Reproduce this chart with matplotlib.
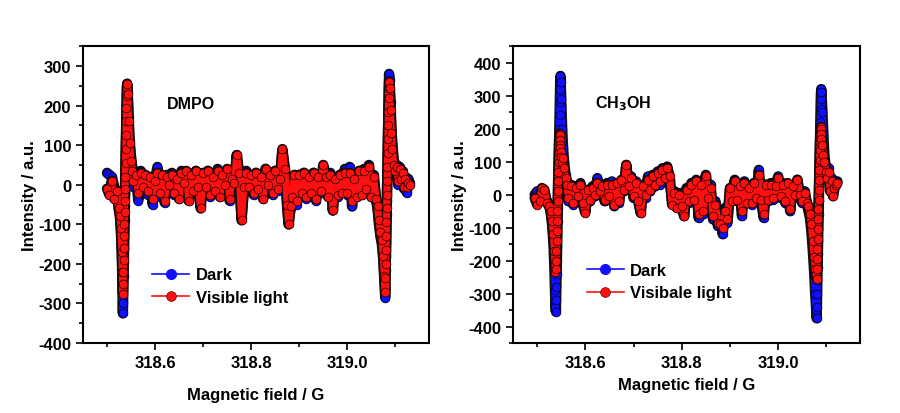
import matplotlib.pyplot as plt
import matplotlib.patheffects as pe
from matplotlib.ticker import MultipleLocator

plt.rcParams["font.family"] = ["Liberation Sans", "DejaVu Sans"]
plt.rcParams["font.weight"] = "bold"
plt.rcParams["mathtext.default"] = "bf"
plt.rcParams["axes.unicode_minus"] = False

# ---- DMPO panel (field in G, intensity in a.u.) ----
dmpo_field = [
    318.500, 318.505, 318.510, 318.515, 318.520, 318.524, 318.527, 318.529, 318.531, 318.532,
    318.533, 318.5335, 318.534, 318.5345, 318.535, 318.5355, 318.536, 318.5365, 318.537, 318.5375,
    318.538, 318.5385, 318.539, 318.5395, 318.540, 318.5405, 318.541, 318.5415, 318.542, 318.543,
    318.545, 318.547, 318.550, 318.553,
    318.555, 318.560, 318.565, 318.570, 318.575, 318.580, 318.585, 318.590, 318.595, 318.600,
    318.605, 318.610, 318.615, 318.620, 318.625, 318.630, 318.635, 318.640, 318.645, 318.650,
    318.655, 318.660, 318.665, 318.670, 318.675, 318.680, 318.685, 318.690, 318.695, 318.700,
    318.705, 318.710, 318.715, 318.720, 318.725, 318.730, 318.735, 318.740, 318.745, 318.750,
    318.755, 318.760, 318.765, 318.770, 318.775, 318.780, 318.785, 318.790, 318.795, 318.800,
    318.805, 318.810, 318.815, 318.820, 318.825, 318.830, 318.835, 318.840, 318.845, 318.850,
    318.855, 318.860, 318.865, 318.870, 318.875,
    318.878, 318.882, 318.885,
    318.890, 318.895, 318.900, 318.905, 318.910, 318.915, 318.920, 318.925, 318.930, 318.935,
    318.940, 318.945, 318.950, 318.955, 318.960, 318.965, 318.970, 318.975, 318.980, 318.985,
    318.990, 318.995, 319.000, 319.005, 319.010, 319.015, 319.020, 319.025, 319.030, 319.035,
    319.040, 319.045, 319.050, 319.055, 319.060,
    319.063, 319.066, 319.069, 319.072, 319.075, 319.077, 319.079, 319.0795, 319.080, 319.0805,
    319.081, 319.0815, 319.082, 319.0825, 319.083, 319.0835, 319.084, 319.0845, 319.085, 319.0855,
    319.086, 319.0865, 319.087, 319.088, 319.090, 319.092, 319.094, 319.097, 319.100, 319.103,
    319.106, 319.109, 319.112, 319.115, 319.118, 319.121, 319.124, 319.127, 319.130,
]
dmpo_dark = [
    30, 25, 20, -5, -20, -45, -80, -120, -190, -250,
    -325, -300, -265, -230, -195, -160, -125, -90, -55, -20,
    15, 50, 85, 120, 155, 190, 220, 245, 255, 235,
    170, 110, 70, 40,
    -5, 30, -40, 35, -10, 20, -25, 15, -50, 15,
    45, -30, 20, -45, 25, -5, 30, -25, 20, -35,
    35, -5, 30, -40, 20, -20, 35, -10, -55, 25,
    -15, 35, -30, 15, -20, 40, -30, 20, -5, 35,
    -40, 25, -5, 75, 20, -85, -10, 35, -10, 20,
    -25, 30, -15, 25, -35, 40, -5, 30, -25, 35,
    -15, 20, 85, 40, -60,
    -100, -60, -40,
    20, -50, 25, -20, 30, -35, 25, -25, 30, -40,
    25, -20, 45, 10, -30, 30, -65, 15, -30, 25,
    -20, 40, -25, 45, -55, 20, -30, 35, -25, 40,
    -5, 50, -30, 25, -40,
    -60, -100, -130, -150, -190, -240, -285, -250, -215, -180,
    -145, -110, -75, -40, -5, 30, 65, 100, 140, 180,
    220, 255, 280, 265, 210, 140, 100, 60, 40, 50,
    0, 45, 20, 35, -10, 20, -20, 15, 5,
]
dmpo_light = [
    -10, -25, 10, -35, -15, -60, -80, -110, -170, -220,
    -275, -250, -220, -190, -160, -130, -100, -70, -40, -10,
    20, 55, 90, 125, 160, 195, 225, 245, 255, 230,
    160, 105, 60, 35,
    10, 25, -20, 30, -5, 25, -15, 20, -35, 10,
    30, -20, 25, -40, 20, 0, 25, -20, 15, -35,
    30, 5, 35, -40, 25, -15, 35, -5, -60, 30,
    -5, 35, -25, 20, -15, 35, -30, 25, 0, 40,
    -35, 15, 5, 75, 30, -90, -5, 30, -5, 25,
    -20, 30, -10, 20, -35, 40, 0, 25, -20, 35,
    -10, 15, 90, 40, -50,
    -100, -55, -30,
    25, -40, 25, -20, 30, -30, 20, -20, 30, -35,
    20, -15, 50, 20, -30, 25, -65, 15, -25, 25,
    -20, 30, -20, 30, -40, 15, -30, 35, -25, 35,
    -10, 45, -30, 20, -35,
    -55, -90, -120, -140, -180, -230, -270, -235, -200, -165,
    -130, -95, -60, -25, 10, 45, 80, 115, 150, 185,
    220, 245, 260, 245, 190, 130, 90, 50, 35, 45,
    10, 40, 15, 30, -5, 15, -5, 5, 0,
]

# ---- CH3OH panel ----
meoh_field = [
    318.495, 318.500, 318.505, 318.510, 318.515, 318.520, 318.525, 318.528, 318.531, 318.534,
    318.536, 318.537, 318.538, 318.539, 318.5395, 318.540, 318.5405, 318.541, 318.5415, 318.542,
    318.5425, 318.543, 318.5435, 318.544, 318.5445, 318.545, 318.5455, 318.546, 318.5465, 318.547,
    318.5475, 318.548, 318.5485, 318.549, 318.550, 318.552, 318.554, 318.556, 318.559, 318.562,
    318.565, 318.570, 318.575, 318.580, 318.585, 318.590, 318.595, 318.600, 318.605, 318.610,
    318.615, 318.620, 318.625, 318.630, 318.635, 318.640, 318.645, 318.650, 318.655, 318.660,
    318.665, 318.670, 318.675, 318.680, 318.685, 318.690, 318.695, 318.700, 318.705, 318.710,
    318.715, 318.720, 318.725, 318.730, 318.735, 318.740, 318.745, 318.750, 318.755, 318.760,
    318.765, 318.770, 318.775, 318.780, 318.785, 318.790, 318.795, 318.800, 318.805, 318.810,
    318.815, 318.820, 318.825, 318.830, 318.835, 318.840, 318.845, 318.850, 318.855, 318.860,
    318.865, 318.870, 318.875, 318.880, 318.885, 318.890, 318.895, 318.900, 318.905, 318.910,
    318.915, 318.920, 318.925, 318.930, 318.935, 318.940, 318.945, 318.950, 318.955, 318.960,
    318.965, 318.970, 318.975, 318.980, 318.985, 318.990, 318.995, 319.000, 319.005, 319.010,
    319.015, 319.020, 319.025, 319.030, 319.035, 319.040, 319.045, 319.050, 319.055, 319.060,
    319.063, 319.066, 319.069, 319.072, 319.075, 319.077, 319.079, 319.080, 319.0805, 319.081,
    319.0815, 319.082, 319.0825, 319.083, 319.0835, 319.084, 319.0845, 319.085, 319.0855, 319.086,
    319.0865, 319.087, 319.0875, 319.088, 319.0885, 319.089, 319.0895, 319.090, 319.092, 319.094,
    319.096, 319.099, 319.102, 319.105, 319.108, 319.111, 319.114, 319.117, 319.120, 319.123,
]
meoh_dark = [
    0, 10, -10, 15, 10, -20, -30, -50, -90, -150,
    -230, -290, -340, -355, -320, -280, -240, -200, -160, -120,
    -80, -40, 0, 40, 80, 120, 160, 200, 240, 280,
    320, 350, 360, 340, 290, 200, 140, 100, 60, 40,
    -20, 30, -30, 25, -10, 35, -30, -50, 10, -20,
    25, -5, 50, 5, 30, -20, 35, -10, 40, -35,
    30, -25, 40, 10, 90, 20, 55, -10, 40, -20,
    -55, 30, -10, 55, 10, 60, 25, 70, 30, 80,
    40, 85, 45, -20, 10, -40, 5, -30, -65, 20,
    -25, 35, -20, 45, -70, 35, -60, 60, -10, 30,
    -75, -20, -95, -70, -120, -40, -85, 10, -15, 45,
    -20, 30, -65, 40, -20, 25, -30, 35, -10, 75,
    -20, -70, 30, -20, 35, -15, 25, 55, -10, 35,
    -25, 30, -50, 20, -5, 45, -5, -25, 10, -30,
    -50, -70, -110, -170, -240, -300, -350, -375, -340, -300,
    -260, -220, -180, -140, -100, -60, -20, 20, 60, 100,
    140, 180, 220, 260, 290, 310, 320, 310, 250, 180,
    120, 80, 60, 80, 20, 50, 10, 40, 30, 40,
]
meoh_light = [
    -10, -30, -20, 20, 15, -25, -35, -50, -80, -120,
    -170, -210, -235, -225, -200, -170, -140, -110, -80, -50,
    -20, 10, 40, 70, 100, 130, 155, 175, 185, 180,
    165, 150, 140, 130, 115, 100, 110, 80, 50, 30,
    -10, 25, -25, 20, -5, 30, -25, -55, 15, -15,
    20, 0, 35, 10, 25, -15, 30, -5, 30, -30,
    35, -20, 45, 15, 90, 25, 50, -5, 35, -20,
    -55, 25, 0, 45, 15, 55, 30, 65, 40, 75,
    50, 80, 55, -30, 5, -40, 0, -35, -65, 15,
    -20, 30, -15, 40, -60, 30, -50, 55, -10, 20,
    -65, -30, -85, -90, -100, -50, -75, 20, -20, 40,
    -15, 25, -50, 35, -25, 20, -25, 35, -10, 60,
    -15, -60, 30, -15, 30, -10, 25, 50, -5, 30,
    -20, 35, -45, 25, 0, 45, 0, -20, 5, -25,
    -35, -60, -90, -140, -190, -225, -245, -255, -225, -195,
    -165, -135, -105, -75, -45, -15, 15, 45, 75, 105,
    135, 160, 180, 195, 205, 200, 185, 170, 150, 120,
    100, 70, 50, 70, 10, 40, -5, 20, 30, 35,
]

panels = [
    (dmpo_field, dmpo_dark, dmpo_light, "DMPO", "Visible light", (-400, 350), (318.625, 205), (0.2, 0.255)),
    (meoh_field, meoh_dark, meoh_light, r"CH$_3$OH", "Visibale light", (-450, 450), (318.621, 278), (0.213, 0.27)),
]

fig = plt.figure(figsize=(9, 4.14), dpi=100)
ax_left = fig.add_axes([0.0922, 0.169, 0.3844, 0.717])
ax_right = fig.add_axes([0.570, 0.169, 0.3856, 0.717])

blue = "#1010ff"
red = "#ff1010"
outline = [pe.Stroke(linewidth=7.5, foreground="#101010"), pe.Normal()]

for ax, (field, dark, light, tag, light_label, ylim, tagpos, legpos) in zip([ax_left, ax_right], panels):
    # thick outlined trace + circle markers, mimicking the dense-marker look
    ax.plot(field, dark, "-", color=blue, lw=5, path_effects=outline,
            solid_joinstyle="round", solid_capstyle="round")
    ax.plot(field, dark, "o", color=blue, mec="#000020", mew=0.5, ms=6.3)
    ax.plot(field, light, "-", color=red, lw=5, path_effects=outline,
            solid_joinstyle="round", solid_capstyle="round")
    ax.plot(field, light, "o", color=red, mec="#200000", mew=0.5, ms=6.3)

    # legend proxies (thin line with a single marker)
    ax.plot([], [], "-o", color=blue, lw=1.2, ms=7, label="Dark")
    ax.plot([], [], "-o", color=red, lw=1.2, ms=7, mec="#600000", mew=0.5, label=light_label)

    ax.set_xlim(318.45, 319.17)
    ax.set_ylim(*ylim)
    ax.xaxis.set_major_locator(MultipleLocator(0.2))
    ax.xaxis.set_minor_locator(MultipleLocator(0.1))
    ax.yaxis.set_major_locator(MultipleLocator(100))
    ax.yaxis.set_minor_locator(MultipleLocator(50))
    ax.tick_params(which="both", direction="out", top=False, right=False, labelsize=12, width=1.2)
    ax.tick_params(which="major", length=5)
    ax.tick_params(which="minor", length=3)
    for s in ax.spines.values():
        s.set_linewidth(1.5)
    for lab in ax.get_xticklabels() + ax.get_yticklabels():
        lab.set_fontweight("bold")

    ax.set_ylabel("Intensity / a.u.", fontsize=12, fontweight="bold", labelpad=1)
    ax.text(tagpos[0], tagpos[1], tag, fontsize=11.5, fontweight="bold", va="center", ha="left")
    ax.legend(loc="upper left", bbox_to_anchor=legpos, frameon=False,
              handlelength=2.2, handletextpad=0.4, labelspacing=0.45, borderpad=0, borderaxespad=0,
              prop={"weight": "bold", "size": 12})

ax_left.set_xlabel("Magnetic field / G", fontsize=12, fontweight="bold", labelpad=12)
ax_right.set_xlabel("Magnetic field / G", fontsize=12, fontweight="bold", labelpad=5)

fig.savefig("out.png", dpi=100)
